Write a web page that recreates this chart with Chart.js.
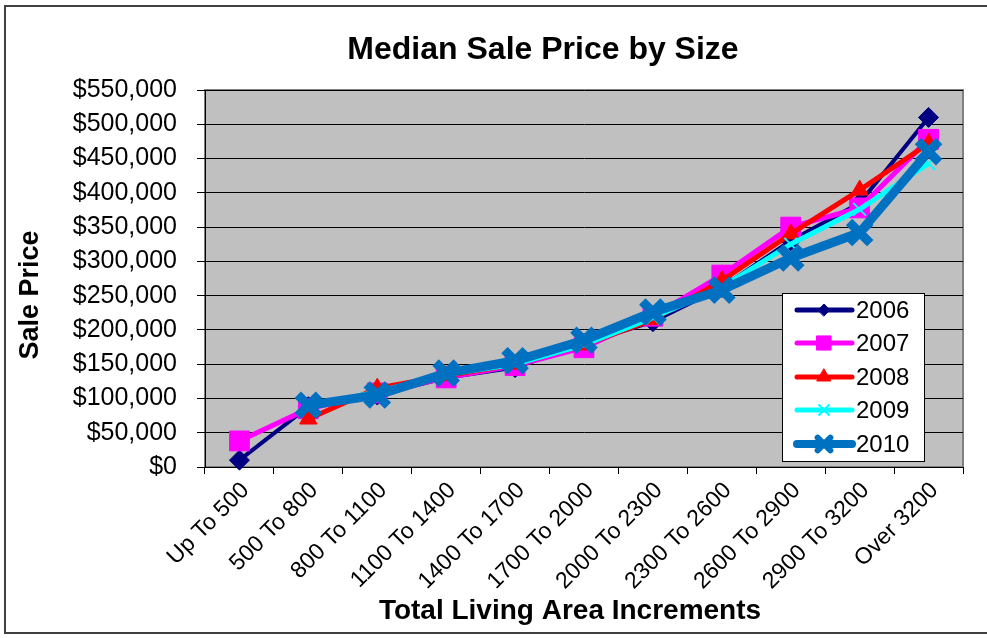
<!DOCTYPE html>
<html>
<head>
<meta charset="utf-8">
<script src="https://cdn.jsdelivr.net/npm/chart.js@4.4.1/dist/chart.umd.min.js"></script>
<style>
  html, body { margin: 0; padding: 0; background: #fff; }
  canvas { display: block; }
</style>
</head>
<body>
<canvas id="chart" width="987" height="638"></canvas>
<script>
const categories = [
  'Up To 500', '500 To 800', '800 To 1100', '1100 To 1400', '1400 To 1700',
  '1700 To 2000', '2000 To 2300', '2300 To 2600', '2600 To 2900', '2900 To 3200', 'Over 3200',
];
const years = ['2006', '2007', '2008', '2009', '2010'];

const price2006 = [10000, 88000, 105000, 130000, 145000, 180000, 212000, 262000, 330000, 385000, 510000];
const price2007 = [38000, 85000, 108000, 130000, 148000, 174000, 220000, 280000, 350000, 378000, 478000];
const price2008 = [null, 70000, 115000, 133000, 150000, 178000, 215000, 272000, 340000, 404000, 472000];
const price2009 = [null, 88000, 110000, 135000, 150000, 178000, 218000, 262000, 325000, 376000, 443000];
const price2010 = [null, 90000, 105000, 137000, 155000, 185000, 226000, 258000, 305000, 342000, 460000];

const yTicks = [0, 50000, 100000, 150000, 200000, 250000, 300000, 350000, 400000, 450000, 500000, 550000];

const FONT = 'Liberation Sans, Arial, sans-serif';

const styles = [
  { color: '#000080', style: 'rectRot', radius: 10, width: 4, pointBorder: 1, legendRadius: 6 },
  { color: '#FF00FF', style: 'rect', radius: 14, width: 5, pointBorder: 1, legendRadius: 10 },
  { color: '#FF0000', style: 'triangle', radius: 10, width: 5, pointBorder: 1, legendRadius: 8 },
  { color: '#00FFFF', style: 'crossRot', radius: 9, width: 5, pointBorder: 2, legendRadius: 7 },
  { color: '#0070C0', style: 'crossRot', radius: 15, width: 9, pointBorder: 9, legendRadius: 9 },
];
const series = [price2006, price2007, price2008, price2009, price2010];

const datasets = series.map((values, i) => ({
  label: years[i],
  data: values,
  borderColor: styles[i].color,
  backgroundColor: styles[i].color,
  borderWidth: styles[i].width,
  pointStyle: styles[i].style,
  pointRadius: styles[i].radius,
  pointBorderWidth: styles[i].pointBorder,
  pointBorderColor: styles[i].color,
  pointBackgroundColor: styles[i].color,
  tension: 0,
  order: years.length - 1 - i, // 2010 drawn on top
  clip: 12,
}));

const decorations = {
  id: 'decorations',
  beforeDraw(chart) {
    const { ctx, chartArea: a } = chart;
    ctx.save();
    ctx.fillStyle = '#fff';
    ctx.fillRect(0, 0, chart.width, chart.height);
    ctx.fillStyle = '#C0C0C0';
    ctx.fillRect(a.left, a.top, a.right - a.left, a.bottom - a.top);
    ctx.strokeStyle = '#808080';
    ctx.lineWidth = 2;
    ctx.strokeRect(a.left, a.top, a.right - a.left, a.bottom - a.top);
    ctx.restore();
  },
  afterDraw(chart) {
    const { ctx } = chart;
    ctx.save();
    // outer frame
    ctx.strokeStyle = '#404040';
    ctx.lineWidth = 2;
    ctx.strokeRect(5, 6, 990, 627);

    // titles
    ctx.fillStyle = '#000';
    ctx.textAlign = 'center';
    ctx.textBaseline = 'middle';
    ctx.font = 'bold 32px ' + FONT;
    ctx.fillText('Median Sale Price by Size', 543, 50);
    ctx.font = 'bold 28px ' + FONT;
    ctx.fillText('Total Living Area Increments', 570, 611);
    ctx.save();
    ctx.translate(31, 295);
    ctx.rotate(-Math.PI / 2);
    ctx.font = 'bold 27px ' + FONT;
    ctx.fillText('Sale Price', 0, 0);
    ctx.restore();

    // legend
    ctx.fillStyle = '#fff';
    ctx.fillRect(782.5, 293.5, 142, 168);
    ctx.strokeStyle = '#000';
    ctx.lineWidth = 1;
    ctx.strokeRect(782.5, 293.5, 142, 168);
    const rows = [310, 343, 377, 410, 444];
    chart.data.datasets.forEach((ds, i) => {
      const y = rows[i];
      ctx.strokeStyle = ds.borderColor;
      ctx.lineWidth = i === 4 ? 8 : 5;
      ctx.lineCap = 'round';
      ctx.beginPath();
      ctx.moveTo(797, y);
      ctx.lineTo(852, y);
      ctx.stroke();
      ctx.fillStyle = ds.backgroundColor;
      ctx.strokeStyle = ds.borderColor;
      ctx.lineWidth = i === 4 ? 6 : ds.pointBorderWidth;
      Chart.helpers.drawPoint(ctx, {
        pointStyle: ds.pointStyle,
        radius: styles[i].legendRadius,
        rotation: 0,
        borderWidth: ctx.lineWidth,
      }, 824, y);
      ctx.fillStyle = '#000';
      ctx.textAlign = 'left';
      ctx.textBaseline = 'middle';
      ctx.font = '24px ' + FONT;
      ctx.fillText(ds.label, 856, y + 1);
    });
    ctx.restore();
  },
};

new Chart(document.getElementById('chart'), {
  type: 'line',
  data: { labels: categories, datasets },
  plugins: [decorations],
  options: {
    responsive: false,
    devicePixelRatio: 1,
    animation: false,
    layout: { padding: { left: 10, top: 90, right: 22, bottom: 5 } },
    plugins: {
      legend: { display: false },
      title: { display: false },
      tooltip: { enabled: false },
    },
    scales: {
      x: {
        offset: true,
        afterFit: (scale) => { scale.height = 166; },
        grid: { offset: true, drawOnChartArea: false, drawTicks: true, tickLength: 7, color: '#000' },
        border: { color: '#000', width: 1 },
        ticks: {
          minRotation: 45,
          maxRotation: 45,
          autoSkip: false,
          padding: 3,
          labelOffset: 6,
          color: '#000',
          font: { family: FONT, size: 23 },
        },
      },
      y: {
        min: 0,
        max: 550000,
        afterFit: (scale) => { scale.width = 195; },
        afterBuildTicks: (scale) => { scale.ticks = yTicks.map((v) => ({ value: v })); },
        grid: { color: '#000', lineWidth: 1, tickLength: 8 },
        border: { color: '#000', width: 1 },
        ticks: {
          padding: 20,
          color: '#000',
          font: { family: FONT, size: 25 },
          callback: (value) => '$' + value.toLocaleString('en-US'),
        },
      },
    },
  },
});
</script>
</body>
</html>
